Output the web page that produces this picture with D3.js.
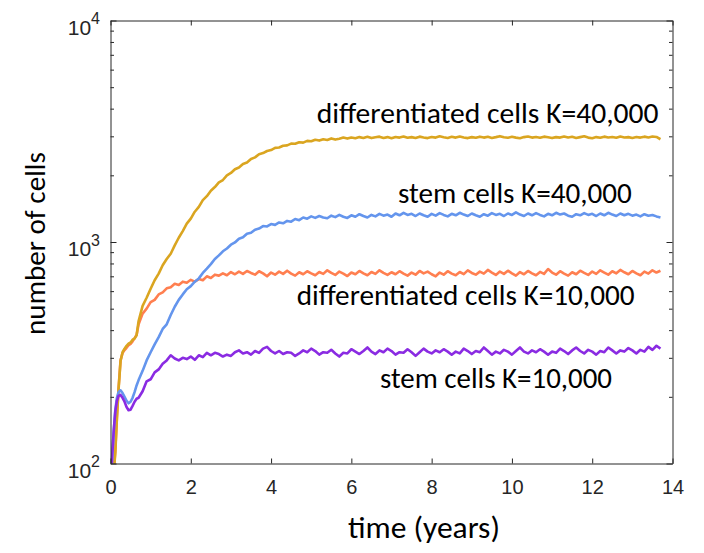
<!DOCTYPE html>
<html><head><meta charset="utf-8">
<script src="https://cdn.jsdelivr.net/npm/d3@7"></script>
<style>body{margin:0;background:#fff}svg{display:block}</style>
</head><body><svg id="c" width="704" height="553"></svg>
<script>
// ---- data ----
const earlyTimes = [0,0.04,0.08,0.12,0.16,0.2,0.25,0.3,0.35,0.4,0.45,0.5,0.55,0.6,0.65];
const times = earlyTimes.concat(d3.range(7,138).map(i => i/10)); // 0.7 .. 13.7 yr

const diff40k = [60,75,90,112,160,215,290,318,330,340,348,352,362,366,380,
 440,515,560,615,672,720,785,838,885,965,
 1045,1120,1210,1275,1370,1440,1545,1610,1705,1770,
 1860,1905,2000,2050,2130,2170,2250,2285,2370,2410,
 2490,2520,2575,2600,2660,2670,2720,2730,2780,2775,
 2820,2810,2860,2850,2895,2870,2910,2890,2935,2900,
 2925,2960,2930,2965,2940,2975,2950,2985,2945,2970,
 2990,2950,2975,2940,2980,2960,2995,2955,2975,2950,
 2990,2965,2945,2980,2960,3000,2970,2950,2985,2960,
 2995,2965,2945,2975,2955,2990,2960,2985,2950,2975,
 3005,2970,2955,2985,2960,2940,2975,2995,2960,2980,
 2955,2990,2970,2945,2975,2960,2995,2965,2985,2950,
 2975,3000,2960,2940,2975,2955,2990,2965,2980,2955,
 2995,2965,2975,2950,2980,2960,2990,2965,2995,2980,
 2910];

const stem40k = [80,105,140,175,198,210,214,208,200,192,187,190,198,210,225,
 238,262,292,318,345,372,405,425,468,510,
 548,580,612,632,662,685,725,758,795,838,
 870,908,935,972,995,1035,1050,1090,1100,1135,
 1150,1180,1175,1205,1195,1225,1215,1245,1235,1270,
 1255,1290,1275,1305,1285,1310,1290,1280,1315,1295,
 1325,1300,1285,1320,1300,1335,1310,1290,1325,1305,
 1340,1315,1330,1300,1345,1320,1355,1325,1340,1310,
 1345,1320,1300,1340,1315,1350,1325,1305,1340,1320,
 1355,1330,1310,1345,1320,1300,1335,1315,1350,1325,
 1340,1310,1345,1325,1360,1330,1310,1345,1320,1350,
 1325,1305,1340,1320,1355,1330,1345,1315,1300,1335,
 1320,1350,1325,1340,1310,1345,1320,1355,1330,1310,
 1345,1320,1340,1315,1330,1305,1335,1315,1325,1305,
 1290];

const diff10k = [60,75,92,115,162,218,292,315,325,333,342,347,356,368,380,
 425,475,500,535,548,580,592,618,625,648,
 640,662,655,675,662,680,672,700,688,712,
 705,722,708,732,715,735,718,740,725,712,
 738,722,700,728,712,735,718,742,720,705,
 730,715,738,722,708,732,718,745,725,710,
 735,720,702,728,715,740,722,708,732,718,
 745,725,710,730,715,738,720,705,728,712,
 740,722,735,715,700,728,712,738,720,708,
 732,716,745,725,712,735,720,748,728,710,
 735,718,742,722,705,732,715,740,722,708,
 733,718,755,728,712,738,720,705,730,715,
 742,725,710,735,718,745,728,712,738,722,
 748,730,715,740,722,708,735,720,745,728,
 742];

const stem10k = [80,107,140,172,192,202,204,198,190,180,174,175,182,190,196,
 198,212,235,240,258,266,282,292,308,298,
 292,300,296,304,294,308,302,316,308,316,
 312,304,310,306,318,324,314,318,310,322,
 316,330,336,322,314,322,312,318,316,306,
 314,324,318,330,322,310,318,316,326,314,
 304,316,314,328,320,312,322,334,320,312,
 324,318,330,322,310,318,316,328,318,306,
 318,330,320,314,324,318,328,320,310,320,
 314,330,322,312,322,318,334,322,310,320,
 314,326,320,310,322,334,320,314,324,318,
 328,320,310,320,316,330,322,312,324,334,
 322,314,326,320,310,322,318,334,324,314,
 324,320,332,324,314,326,320,336,326,340,
 330];

const xTicks = [0,2,4,6,8,10,12,14];
const yMajor = [100,1000,10000];
const yExp = ["2","3","4"];
const yMinor = [200,300,400,500,600,700,800,900,2000,3000,4000,5000,6000,7000,8000,9000];

const seriesNames = ["differentiated cells K=10,000","differentiated cells K=40,000","stem cells K=40,000","stem cells K=10,000"];
const seriesData = [diff10k, diff40k, stem40k, stem10k];
const seriesColors = ["#FF7F50","#DAA520","#6495ED","#8A2BE2"];

// ---- drawing ----
const svg = d3.select("#c");
const L = 110.5, R = 672.5, T = 20.5, B = 463.5;
const x = d3.scaleLinear().domain([0,14]).range([L,R]);
const y = d3.scaleLog().domain([100,10000]).range([B,T]);
const axCol = "#262626";
const tickFont = "'Liberation Sans', Arial, Helvetica, sans-serif";
const labFont = "Carlito, Calibri, Lato, 'Open Sans', sans-serif";

svg.append("defs").append("clipPath").attr("id","clip")
  .append("rect").attr("x",L).attr("y",T).attr("width",R-L).attr("height",B-T);

const line = d3.line().x((d,i) => x(times[i])).y(d => y(d));
const gLines = svg.append("g").attr("clip-path","url(#clip)");
seriesData.forEach((s,k) => {
  gLines.append("path").datum(s).attr("d", line)
    .attr("fill","none").attr("stroke", seriesColors[k])
    .attr("stroke-width", 2.6).attr("stroke-linejoin","round");
});

function styleAxis(g){
  g.selectAll("path.domain").attr("stroke",axCol).attr("stroke-width",1);
  g.selectAll(".tick line").attr("stroke",axCol).attr("stroke-width",1);
}
// bottom
const gB = svg.append("g").attr("transform",`translate(0,${B})`)
  .call(d3.axisBottom(x).tickValues(xTicks).tickSizeInner(-5).tickSizeOuter(0).tickPadding(16.5).tickFormat(d3.format("d")));
styleAxis(gB);
gB.selectAll("text").attr("font-family",tickFont).style("font-size","20px").attr("fill",axCol);
// top
const gT = svg.append("g").attr("transform",`translate(0,${T})`)
  .call(d3.axisTop(x).tickValues(xTicks).tickSizeInner(-5).tickSizeOuter(0).tickFormat(""));
styleAxis(gT);
// left
const gL = svg.append("g").attr("transform",`translate(${L},0)`)
  .call(d3.axisLeft(y).tickValues(yMajor).tickSizeInner(-6).tickSizeOuter(0).tickFormat(""));
styleAxis(gL);
const gLm = svg.append("g").attr("transform",`translate(${L},0)`)
  .call(d3.axisLeft(y).tickValues(yMinor).tickSizeInner(-3.5).tickSizeOuter(0).tickFormat(""));
styleAxis(gLm); gLm.select("path.domain").remove();
// right
const gR = svg.append("g").attr("transform",`translate(${R},0)`)
  .call(d3.axisRight(y).tickValues(yMajor).tickSizeInner(-6).tickSizeOuter(0).tickFormat(""));
styleAxis(gR);
const gRm = svg.append("g").attr("transform",`translate(${R},0)`)
  .call(d3.axisRight(y).tickValues(yMinor).tickSizeInner(-3.5).tickSizeOuter(0).tickFormat(""));
styleAxis(gRm); gRm.select("path.domain").remove();

// y tick labels with superscripts
yMajor.forEach((v,i) => {
  const t = svg.append("text").attr("x",100).attr("y",y(v)+14)
    .attr("text-anchor","end").attr("font-family",tickFont).attr("fill",axCol)
    .style("font-size","21px");
  t.append("tspan").style("font-size","21px").text("10");
  t.append("tspan").style("font-size","16px").attr("dy",-10.5).text(yExp[i]);
});

// fitted text helper
function fitText(sel, width){
  sel.style("font-size","29px");
  const len = sel.node().getComputedTextLength();
  sel.style("font-size", (29*width/len) + "px");
}
const annot = [
  {txt:seriesNames[1], x:316.7, y:123.3, w:342},
  {txt:seriesNames[2], x:398, y:203.3, w:234},
  {txt:seriesNames[0], x:296.7, y:305, w:338},
  {txt:seriesNames[3], x:380, y:388.3, w:232}
];
annot.forEach(a => {
  const t = svg.append("text").attr("x",a.x).attr("y",a.y)
    .attr("font-family",labFont).attr("fill","#000").text(a.txt);
  fitText(t, a.w);
});
const xl = svg.append("text").attr("x",424).attr("y",538).attr("text-anchor","middle")
  .attr("font-family",labFont).attr("fill","#000").text("time (years)");
fitText(xl, 152);
const yl = svg.append("text").attr("transform","translate(45,243.5) rotate(-90)")
  .attr("text-anchor","middle").attr("font-family",labFont).attr("fill","#000").text("number of cells");
fitText(yl, 183);
</script></body></html>
